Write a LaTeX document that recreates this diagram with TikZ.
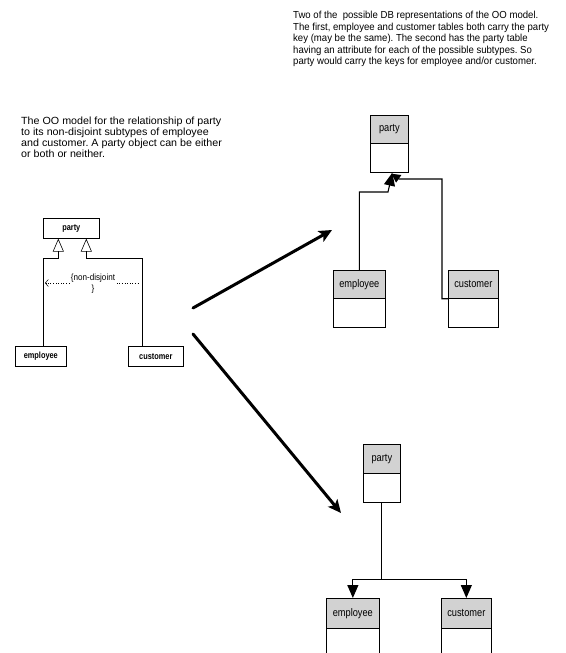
\documentclass[tikz,border=0pt]{standalone}
\usepackage{fontspec}
\setmainfont{Liberation Sans}
\newfontfamily\notefont{Liberation Sans}[FakeStretch=1.03]
\newfontfamily\headnotefont{Liberation Sans}[FakeStretch=0.94]
\newfontfamily\labelfont{Liberation Sans}[FakeStretch=0.84]
\newfontfamily\umlfont{Liberation Sans}[FakeStretch=0.82]
\newfontfamily\constraintfont{Liberation Sans}[FakeStretch=0.9]
\usetikzlibrary{arrows.meta}
\definecolor{hdrgray}{HTML}{D2D2D2}
\frenchspacing
\begin{document}
\begin{tikzpicture}[x=1pt,y=-1pt,
  umlbox/.style={draw=black, line width=0.6pt, inner sep=0pt, anchor=north west,
    font=\umlfont\fontsize{9}{10}\selectfont\bfseries},
  hdr/.style={draw=black, fill=hdrgray, line width=0.7pt, inner sep=0pt, anchor=north west,
    font=\labelfont\fontsize{11}{12}\selectfont},
  bodybox/.style={draw=black, fill=white, line width=0.7pt, inner sep=0pt, anchor=north west},
  gen/.style={line width=0.6pt, -{Triangle[open, length=13pt, width=11pt, line width=0.6pt]}},
  fk/.style={line width=1.1pt, -{Triangle[length=13pt, width=11pt]}},
  fksmall/.style={line width=1.1pt, -{Triangle[length=9pt, width=9pt]}},
  bigarrow/.style={line width=3pt, line cap=round, -{Stealth[length=13pt, width=12pt, inset=3pt]}},
  note/.style={anchor=north west, inner sep=0pt, align=left}
]
\useasboundingbox (0,0) rectangle (565,653);
\clip (0,0) rectangle (565,653);

% explanatory notes
\node[note, font=\headnotefont\fontsize{10.2}{11.5}\selectfont] (noteA) at (293,11)
 {Two of the\ \ possible DB representations of the OO model.\\
The first, employee and customer tables both carry the party\\
key (may be the same). The second has the party table\\
having an attribute for each of the possible subtypes. So\\
party would carry the keys for employee and/or customer.};
\node[note, font=\notefont\fontsize{10.4}{11.2}\selectfont] (noteB) at (21,116.5)
 {The OO model for the relationship of party\\
to its non-disjoint subtypes of employee\\
and customer. A party object can be either\\
or both or neither.};

% ---- OO model (UML) ----
\node[umlbox, minimum width=56pt, minimum height=20pt] (uparty) at (43,218) {party};
\node[umlbox, minimum width=51pt, minimum height=20pt] (uemp) at (15,346) {employee};
\node[umlbox, minimum width=55pt, minimum height=20pt] (ucus) at (128,346) {customer};

\draw[gen] ([xshift=28pt]uemp.north west) -- ++(0,-88) -| ([xshift=-13pt]uparty.south);
\draw[gen] ([xshift=14pt]ucus.north west) -- ++(0,-88) -| ([xshift=15pt]uparty.south);

\node[font=\constraintfont\fontsize{9}{11}\selectfont, fill=white, inner sep=1.5pt, align=center]
  (nd) at (93,283.5) {\{non-disjoint\\\}};
\coordinate (ndL) at (45,283);
\coordinate (ndR) at (140,283);
\draw[dotted, line width=0.6pt, -{Straight Barb[length=3pt, width=7pt, line width=0.5pt]}]
  (nd.west |- ndL) -- (ndL);
\draw[dotted, line width=0.6pt] (nd.east |- ndR) -- (ndR);

% ---- first DB representation ----
\node[hdr, minimum width=38pt, minimum height=28pt] (p1h) at (370,115) {party};
\node[bodybox, minimum width=38pt, minimum height=29pt] (p1b) at (370,143) {};
\node[hdr, minimum width=52pt, minimum height=28pt] (e1h) at (333,270) {employee};
\node[bodybox, minimum width=52pt, minimum height=29pt] (e1b) at (333,298) {};
\node[hdr, minimum width=50pt, minimum height=28pt] (c1h) at (448,270) {customer};
\node[bodybox, minimum width=50pt, minimum height=29pt] (c1b) at (448,298) {};

% foreign keys pointing at party
\draw[fk, line join=miter] (e1h.north) |- (388,192) -- ([xshift=3pt]p1b.south);
\draw[fksmall] (c1h.south west) -- ++(-6,0) |- (399,179) -- ([xshift=2pt, yshift=-1pt]p1b.south);

% ---- second DB representation ----
\node[hdr, minimum width=37pt, minimum height=29pt] (p2h) at (363,444) {party};
\node[bodybox, minimum width=37pt, minimum height=29pt] (p2b) at (363,473) {};
\node[hdr, minimum width=53pt, minimum height=30pt] (e2h) at (326,598) {employee};
\node[bodybox, minimum width=53pt, minimum height=29pt] (e2b) at (326,628) {};
\node[hdr, minimum width=50pt, minimum height=30pt] (c2h) at (441,598) {customer};
\node[bodybox, minimum width=50pt, minimum height=29pt] (c2b) at (441,628) {};

\draw[line width=1.1pt] (p2b.south) -- ++(0,77) coordinate (split);
\draw[fk] (split) -| (e2h.north);
\draw[fk] (split) -| (c2h.north);

% ---- mapping arrows ----
\coordinate (m1s) at (193,308);
\coordinate (m1e) at (332,230);
\coordinate (m2s) at (193,334);
\coordinate (m2e) at (341,513);
\draw[bigarrow] (m1s) -- (m1e);
\draw[bigarrow] (m2s) -- (m2e);
\end{tikzpicture}
\end{document}
